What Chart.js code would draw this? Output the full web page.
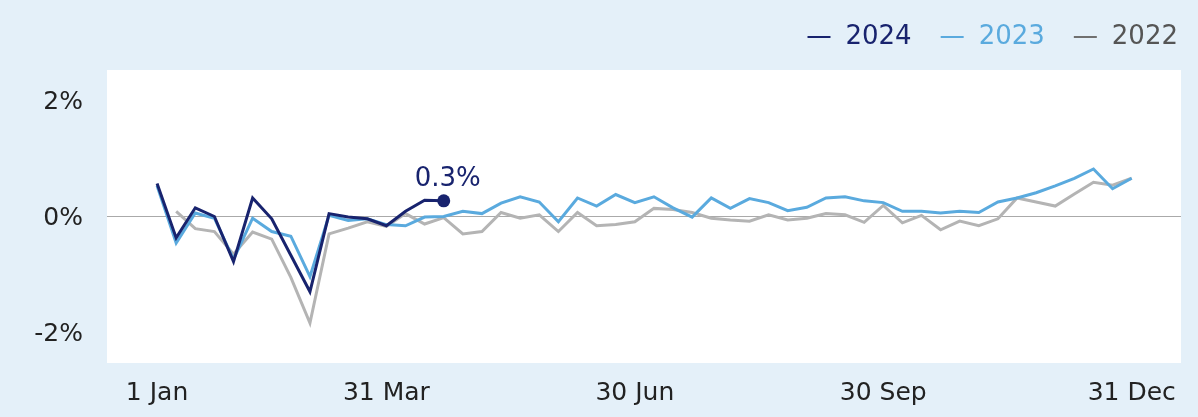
<!DOCTYPE html>
<html>
<head>
<meta charset="utf-8">
<script src="https://cdn.jsdelivr.net/npm/chart.js@4"></script>
<style>
  html, body { margin: 0; padding: 0; background: #e4f0f9; }
  #wrap { width: 1198px; height: 417px; }
</style>
</head>
<body>
<div id="wrap"><canvas id="c" width="1198" height="417"></canvas></div>
<script>
// ---- data (weekly, 52 weeks) ----
const weeks = Array.from({length: 52}, (_, i) => i);
const seriesNames = ['2024', '2023', '2022'];
const values2024 = [0.57, -0.37, 0.15, 0.00, -0.78, 0.32, -0.04, -0.67, -1.30, 0.05, -0.01, -0.04, -0.16, 0.09, 0.28, 0.27];
const values2023 = [0.53, -0.46, 0.06, -0.03, -0.74, -0.03, -0.26, -0.34, -1.04, 0.02, -0.07, -0.04, -0.14, -0.16, -0.01, 0.00,
  0.09, 0.05, 0.23, 0.34, 0.25, -0.09, 0.32, 0.18, 0.38, 0.24, 0.34, 0.15, -0.01, 0.32, 0.14, 0.31, 0.24, 0.10,
  0.16, 0.32, 0.34, 0.27, 0.24, 0.09, 0.09, 0.06, 0.09, 0.07, 0.25, 0.32, 0.41, 0.53, 0.66, 0.82, 0.48, 0.66];
const values2022 = [null, 0.09, -0.21, -0.26, -0.65, -0.27, -0.39, -1.05, -1.84, -0.30, -0.20, -0.09, -0.17, 0.05, -0.13, -0.02,
  -0.30, -0.26, 0.07, -0.03, 0.03, -0.26, 0.07, -0.16, -0.14, -0.09, 0.14, 0.12, 0.07, -0.03, -0.06, -0.08, 0.03, -0.06,
  -0.03, 0.05, 0.03, -0.10, 0.19, -0.11, 0.02, -0.23, -0.08, -0.16, -0.04, 0.32, 0.25, 0.18, 0.39, 0.59, 0.54, 0.66];
const xTickWeeks = [0, 12, 25, 38, 51];
const xTickLabels = ['1 Jan', '31 Mar', '30 Jun', '30 Sep', '31 Dec'];
const yTickValues = [-2, 0, 2];
const yTickLabels = ['-2%', '0%', '2%'];

const COLORS = { '2024': '#18236e', '2023': '#5aaade', '2022': '#b4b4b4' };
const LEGEND_TEXT = { '2024': '#18236e', '2023': '#5aaade', '2022': '#555555' };
const LEGEND_DASH = { '2024': '#18236e', '2023': '#5aaade', '2022': '#707070' };
const FONT = '"DejaVu Sans", Verdana, sans-serif';

function toPoints(vals) { return vals.map((v, i) => ({ x: weeks[i], y: v })); }

const plotBg = {
  id: 'plotBg',
  beforeDraw(chart) {
    const { ctx, chartArea: a } = chart;
    ctx.save();
    ctx.fillStyle = '#ffffff';
    ctx.fillRect(a.left, a.top, a.right - a.left, a.bottom - a.top);
    ctx.restore();
  }
};

const yearLegend = {
  id: 'yearLegend',
  afterDraw(chart) {
    const ctx = chart.ctx;
    ctx.save();
    ctx.font = '26px ' + FONT;
    ctx.textBaseline = 'middle';
    ctx.textAlign = 'left';
    const yc = 37, dashLen = 23, dashGap = 15, itemGap = 29;
    let right = 1178;
    const items = seriesNames.slice().reverse();
    items.forEach((name) => {
      const tw = ctx.measureText(name).width;
      const tx = right - tw;
      const dx1 = tx - dashGap;
      const dx0 = dx1 - dashLen;
      ctx.fillStyle = LEGEND_TEXT[name];
      ctx.fillText(name, tx, yc);
      ctx.strokeStyle = LEGEND_DASH[name];
      ctx.lineWidth = 2;
      ctx.beginPath();
      ctx.moveTo(dx0, yc);
      ctx.lineTo(dx1, yc);
      ctx.stroke();
      right = dx0 - itemGap;
    });
    ctx.restore();
  }
};

const lastLabel = {
  id: 'lastLabel',
  afterDatasetsDraw(chart) {
    const meta = chart.getDatasetMeta(0);
    const idx = values2024.length - 1;
    const pt = meta.data[idx];
    if (!pt) return;
    const ctx = chart.ctx;
    ctx.save();
    ctx.font = '26px ' + FONT;
    ctx.fillStyle = COLORS['2024'];
    ctx.textAlign = 'center';
    ctx.textBaseline = 'middle';
    ctx.fillText(values2024[idx].toFixed(1) + '%', pt.x + 4, pt.y - 22);
    ctx.restore();
  }
};

new Chart(document.getElementById('c'), {
  type: 'line',
  data: {
    datasets: [
      { label: '2024', data: toPoints(values2024), borderColor: COLORS['2024'], backgroundColor: COLORS['2024'],
        borderWidth: 3, tension: 0,
        pointRadius: (c) => c.dataIndex === values2024.length - 1 ? 6.5 : 0,
        pointBorderWidth: 0, pointHoverRadius: 0 },
      { label: '2023', data: toPoints(values2023), borderColor: COLORS['2023'], backgroundColor: COLORS['2023'],
        borderWidth: 3, tension: 0, pointRadius: 0, pointHoverRadius: 0 },
      { label: '2022', data: toPoints(values2022), borderColor: COLORS['2022'], backgroundColor: COLORS['2022'],
        borderWidth: 3, tension: 0, pointRadius: 0, pointHoverRadius: 0, spanGaps: false }
    ]
  },
  options: {
    responsive: false,
    animation: false,
    devicePixelRatio: 1,
    layout: { padding: { top: 70, right: 17, bottom: 0, left: 0 } },
    plugins: { legend: { display: false }, tooltip: { enabled: false } },
    scales: {
      x: {
        type: 'linear',
        min: -2.62, max: 53.58,
        afterFit(s) { s.height = 54; },
        afterBuildTicks(s) { s.ticks = xTickWeeks.map(v => ({ value: v })); },
        grid: { display: false, drawTicks: false },
        border: { display: false },
        ticks: {
          autoSkip: false, maxRotation: 0, minRotation: 0, padding: 15,
          color: '#222222', font: { family: FONT, size: 25 },
          callback: (v) => { const k = xTickWeeks.indexOf(v); return k >= 0 ? xTickLabels[k] : ''; }
        }
      },
      y: {
        min: -2.53, max: 2.53,
        afterFit(s) { s.width = 107; },
        afterBuildTicks(s) { s.ticks = yTickValues.map(v => ({ value: v })); },
        grid: {
          drawTicks: false,
          color: (c) => (c.tick && c.tick.value === 0) ? '#aaaaaa' : 'rgba(0,0,0,0)',
          lineWidth: 1
        },
        border: { display: false },
        ticks: {
          padding: 24, labelOffset: 2, color: '#222222', font: { family: FONT, size: 25 },
          callback: (v) => { const k = yTickValues.indexOf(v); return k >= 0 ? yTickLabels[k] : ''; }
        }
      }
    }
  },
  plugins: [plotBg, yearLegend, lastLabel]
});
</script>
</body>
</html>
